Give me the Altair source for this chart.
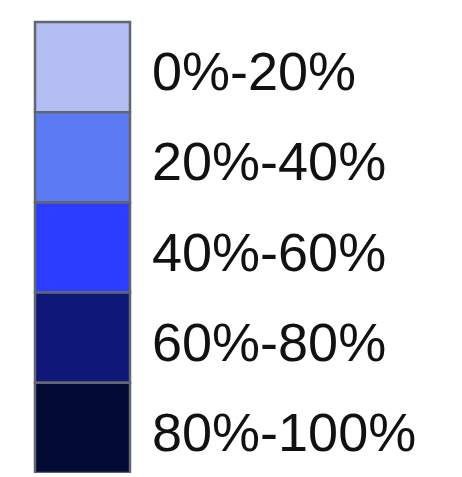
import altair as alt
import pandas as pd

labels = ["0%-20%", "20%-40%", "40%-60%", "60%-80%", "80%-100%"]
colors = ["#b4bdf2", "#5c7af4", "#2d3dff", "#0f1878", "#010a33"]

df = pd.DataFrame({"label": labels})

y = alt.Y("label:N", sort=labels, axis=None,
          scale=alt.Scale(paddingInner=0, paddingOuter=0))

boxes = alt.Chart(df).mark_rect(stroke="#62666f", strokeWidth=2.5).encode(
    x=alt.value(0), x2=alt.value(95),
    y=y,
    color=alt.Color("label:N", sort=labels, legend=None,
                    scale=alt.Scale(domain=labels, range=colors)),
)

texts = alt.Chart(df).mark_text(
    align="left", baseline="alphabetic", dy=23,
    font="Liberation Sans", fontSize=54, color="#111111",
).encode(
    x=alt.value(117),
    y=y,
    text="label:N",
)

chart = alt.layer(boxes, texts).properties(
    width=419, height=451,
    padding={"left": 27, "top": 14, "right": 0, "bottom": 0},
    autosize=alt.AutoSizeParams(type="none"),
    background="white",
).configure_view(stroke=None, strokeWidth=0)

chart.save("out.html", embed_options={"renderer": "svg", "actions": False})
